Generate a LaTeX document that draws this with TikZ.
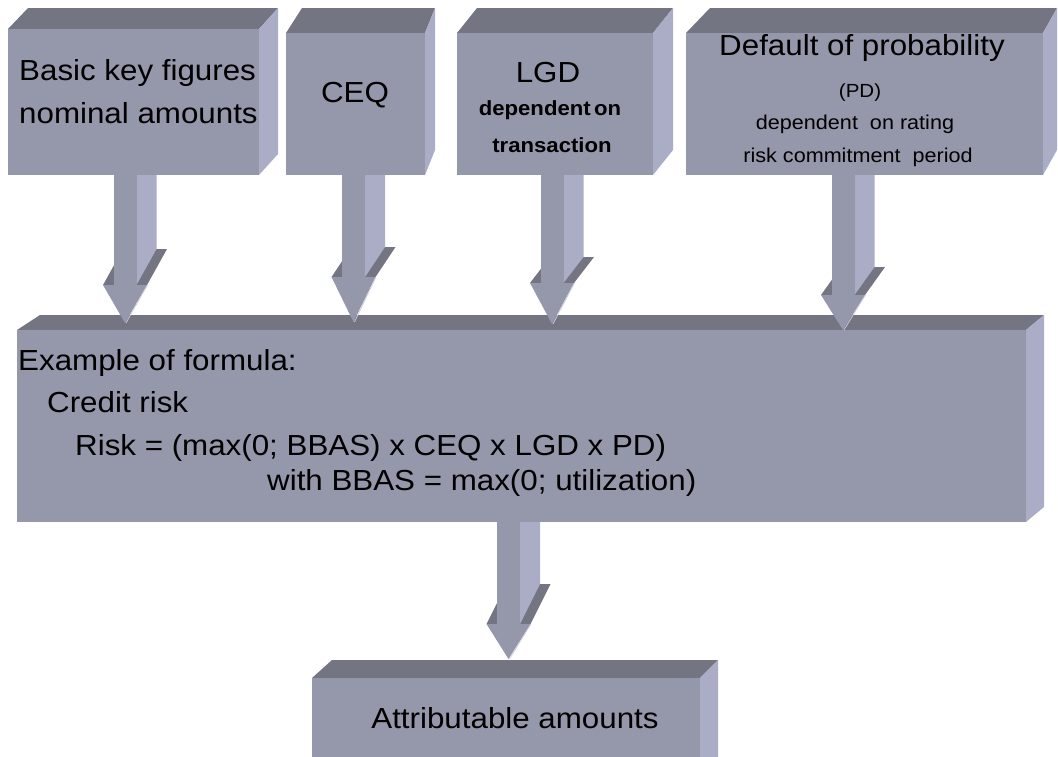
\documentclass[tikz,border=0pt]{standalone}
\usepackage{fontspec}
\setmainfont{Liberation Sans}[FakeStretch=1.08]
\definecolor{boxfront}{HTML}{9597AB}
\definecolor{boxtop}{HTML}{747583}
\definecolor{boxside}{HTML}{ABADC7}
\newcommand{\cubebox}[7]{% L T R B dl dr dy
  \fill[boxtop] (#1,#2) -- (#1+#5,#2-#7) -- (#3+#6,#2-#7) -- (#3,#2) -- cycle;
  \fill[boxside] (#3,#2) -- (#3+#6,#2-#7) -- (#3+#6,#4-#7) -- (#3,#4) -- cycle;
  \fill[boxfront] (#1,#2) rectangle (#3,#4);
}
\newcommand{\solidarrow}[6]{% name c top wy tip dy
  \coordinate (#1-start) at (#2,#3);
  \coordinate (#1-end) at (#2,#5);
  \fill[boxtop] (#2-22,#4) -- (#2+22,#4) -- (#2+42,#4-#6) -- (#2-2,#4-#6) -- cycle;
  \fill[boxside] (#2+11.5,#3) -- (#2+31.5,#3) -- (#2+31.5,#4-#6) -- (#2+11.5,#4) -- cycle;
  \fill[boxfront] (#2-11.5,#3) rectangle (#2+11.5,#4);
  \fill[boxfront] (#2-22,#4) -- (#2+22,#4) -- (#1-end) -- cycle;
  \draw[boxside!60!white, line width=0.7pt] (#2+22.5,#4) -- ([xshift=1pt]#1-end);
}
\tikzset{
  big/.style={inner sep=0pt, font=\fontsize{29}{35}\selectfont},
  mid/.style={inner sep=0pt, font=\fontsize{20.5}{25}\selectfont\bfseries},
  small/.style={inner sep=0pt, font=\fontsize{20}{24}\selectfont},
  tiny/.style={inner sep=0pt, font=\fontsize{19}{23}\selectfont},
}
\begin{document}
\begin{tikzpicture}[x=1pt,y=-1pt]
\useasboundingbox (0,0) rectangle (1058,756);
\clip (0,0) rectangle (1058,756);
% top boxes
\cubebox{8}{29}{259}{175}{20}{19}{21}
\cubebox{286}{33}{425}{175}{16}{10}{25}
\cubebox{457}{33}{653}{175}{20}{20}{25}
\cubebox{686}{33}{1043}{175}{24}{14}{25}
% main box
\cubebox{17}{330}{1026}{522}{23}{18}{15}
% bottom box
\cubebox{312}{678}{700}{790}{20}{18}{18}
% arrows
\solidarrow{a1}{125}{175}{285}{323}{36}
\solidarrow{a2}{353.5}{175}{277}{322}{30}
\solidarrow{a3}{552}{175}{283}{324}{26}
\solidarrow{a4}{843}{175}{295}{330}{28}
\solidarrow{a5}{508.5}{522}{624}{659}{40}
% texts
\node[big, anchor=base west] (t1a) at (19,80) {Basic key figures};
\node[big, anchor=base west] (t1b) at (19,123) {nominal amounts};
\node[big, anchor=base] (t2) at (355,102) {CEQ};
\node[big, anchor=base] (t3a) at (548,82) {LGD};
\node[mid, anchor=base] (t3b) at (550,115) {dependent\,on};
\node[mid, anchor=base] (t3c) at (552,152) {transaction};
\node[big, anchor=base] (t4a) at (862,55) {Default of probability};
\node[tiny, anchor=base] (t4b) at (860,97) {(PD)};
\node[small, anchor=base] (t4c) at (855,129) {dependent\ \ on rating};
\node[small, anchor=base] (t4d) at (858,162) {risk commitment\ \ period};
\node[big, anchor=base west] (m1) at (18,370) {Example of formula:};
\node[big, anchor=base west] (m2) at (47,412) {Credit risk};
\node[big, anchor=base west] (m3) at (75,455) {Risk = (max(0; BBAS) x CEQ x LGD x PD)};
\node[big, anchor=base west] (m4) at (267,490) {with BBAS = max(0; utilization)};
\node[big, anchor=base] (bt) at (515,728) {Attributable amounts};
\end{tikzpicture}
\end{document}
